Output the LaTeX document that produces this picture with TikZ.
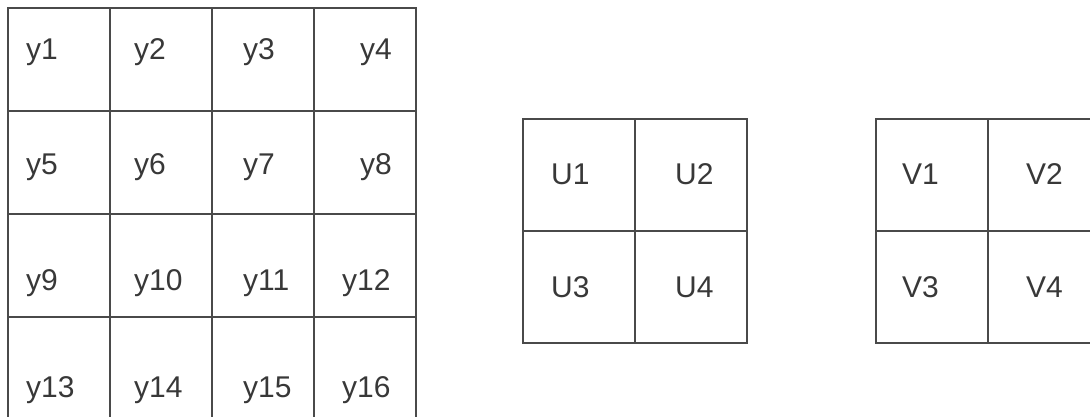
\documentclass[tikz,border=0pt]{standalone}
\usepackage{fontspec}
\setmainfont{Liberation Sans}
\usepackage{tikz}

\definecolor{gridgray}{HTML}{4A4A4A}
\definecolor{textgray}{HTML}{383838}

\tikzset{
  cell/.style={draw=gridgray, line width=2pt, inner sep=0pt, minimum width=#1, minimum height=#1},
  bigcell/.style={draw=gridgray, line width=2pt, inner sep=0pt, minimum width=102pt, minimum height=103pt},
  lbl/.style={anchor=base west, inner sep=0pt, text=textgray, font=\fontsize{30}{36}\selectfont},
  lblr/.style={lbl, anchor=base east}
}

\begin{document}
\begin{tikzpicture}[x=1pt, y=-1pt]
\useasboundingbox (0,0) rectangle (1090,417);
\clip (0,0) rectangle (1090,417);

% left grid y1..y16
\node[bigcell] (c1)  at (59,59.5)  {};
\node[bigcell] (c2)  at (161,59.5) {};
\node[bigcell] (c3)  at (263,59.5) {};
\node[bigcell] (c4)  at (365,59.5) {};
\node[bigcell] (c5)  at (59,162.5)  {};
\node[bigcell] (c6)  at (161,162.5) {};
\node[bigcell] (c7)  at (263,162.5) {};
\node[bigcell] (c8)  at (365,162.5) {};
\node[bigcell] (c9)  at (59,265.5)  {};
\node[bigcell] (c10) at (161,265.5) {};
\node[bigcell] (c11) at (263,265.5) {};
\node[bigcell] (c12) at (365,265.5) {};
\node[bigcell] (c13) at (59,368.5)  {};
\node[bigcell] (c14) at (161,368.5) {};
\node[bigcell] (c15) at (263,368.5) {};
\node[bigcell] (c16) at (365,368.5) {};

\node[lbl]  (y1)  at (26,60)   {y1};
\node[lbl]  (y2)  at (134,60)  {y2};
\node[lbl]  (y3)  at (243,60)  {y3};
\node[lblr] (y4)  at (392,60)  {y4};
\node[lbl]  (y5)  at (26,175)  {y5};
\node[lbl]  (y6)  at (134,175) {y6};
\node[lbl]  (y7)  at (243,175) {y7};
\node[lblr] (y8)  at (392,175) {y8};
\node[lbl]  (y9)  at (26,290)  {y9};
\node[lbl]  (y10) at (134,290) {y10};
\node[lbl]  (y11) at (243,290) {y11};
\node[lbl]  (y12) at (342,290) {y12};
\node[lbl]  (y13) at (26,397)  {y13};
\node[lbl]  (y14) at (134,397) {y14};
\node[lbl]  (y15) at (243,397) {y15};
\node[lbl]  (y16) at (342,397) {y16};

% middle grid U1..U4
\node[cell=112pt] (cu1) at (579,175) {};
\node[cell=112pt] (cu2) at (691,175) {};
\node[cell=112pt] (cu3) at (579,287) {};
\node[cell=112pt] (cu4) at (691,287) {};

\node[lbl] (u1) at (551,185) {U1};
\node[lbl] (u2) at (675,185) {U2};
\node[lbl] (u3) at (551,297) {U3};
\node[lbl] (u4) at (675,297) {U4};

% right grid V1..V4
\node[cell=112pt] (cv1) at (932,175) {};
\node[cell=112pt] (cv2) at (1044,175) {};
\node[cell=112pt] (cv3) at (932,287) {};
\node[cell=112pt] (cv4) at (1044,287) {};

\node[lbl] (v1) at (902,185) {V1};
\node[lbl] (v2) at (1026,185) {V2};
\node[lbl] (v3) at (902,297) {V3};
\node[lbl] (v4) at (1026,297) {V4};
\end{tikzpicture}
\end{document}
